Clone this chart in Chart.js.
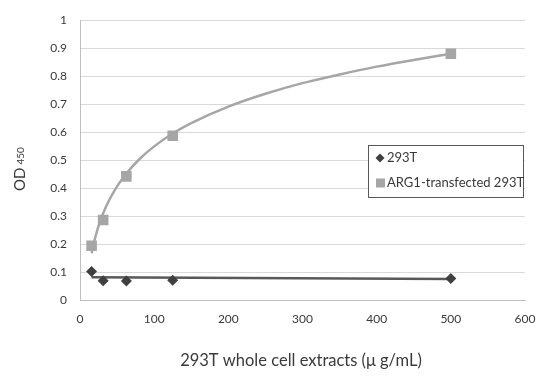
<!DOCTYPE html>
<html>
<head>
<meta charset="utf-8">
<script src="https://cdn.jsdelivr.net/npm/chart.js@4.4.1/dist/chart.umd.min.js"></script>
<style>
html,body{margin:0;padding:0;background:#fff;}
canvas{display:block;}
</style>
</head>
<body>
<canvas id="c" width="559" height="380"></canvas>
<script>
// ---- data ----
const concentrations = [15.625, 31.25, 62.5, 125, 500];
const od293T = [0.102, 0.069, 0.068, 0.071, 0.077];
const odARG1 = [0.194, 0.286, 0.442, 0.587, 0.880];
const seriesNames = ['293T', 'ARG1-transfected 293T'];
// trend lines as drawn in the reference
const trend293TX = [15.625, 500];
const trend293TY = [0.081, 0.075];
const trendARG1X = [15.625, 20, 25, 31.25, 40, 50, 62.5, 80, 100, 125, 150, 200, 250, 300, 350, 400, 450, 500];
const trendARG1Y = [0.167, 0.218, 0.264, 0.310, 0.360, 0.406, 0.452, 0.503, 0.549, 0.595, 0.632, 0.691, 0.737, 0.775, 0.806, 0.834, 0.858, 0.880];
const xTickLabels = ['0', '100', '200', '300', '400', '500', '600'];
const yTickLabels = ['0', '0.1', '0.2', '0.3', '0.4', '0.5', '0.6', '0.7', '0.8', '0.9', '1'];
const xTitle = '293T whole cell extracts (\u03bc g/mL)';
const yTitleMain = 'OD';
const yTitleSub = '450';

const FONT = 'Lato, "Open Sans", sans-serif';
const C_DARK = '#404040';
const C_LIGHT = '#a6a6a6';
const C_TEXT = '#3a3a3a';

const pts = (xs, ys) => xs.map((x, i) => ({x: x, y: ys[i]}));

const annot = {
  id: 'annot',
  afterDraw(chart) {
    const ctx = chart.ctx;
    ctx.save();
    // x title
    ctx.fillStyle = C_TEXT;
    ctx.font = '16.5px ' + FONT;
    ctx.textAlign = 'center';
    ctx.textBaseline = 'middle';
    ctx.fillText(xTitle, 301, 361);
    // y title with subscript
    ctx.save();
    ctx.translate(25, 191);
    ctx.rotate(-Math.PI / 2);
    ctx.textAlign = 'left';
    ctx.textBaseline = 'alphabetic';
    ctx.font = '15px ' + FONT;
    ctx.fillText(yTitleMain, 0, 0);
    const w = ctx.measureText(yTitleMain).width + 3;
    ctx.font = '10px ' + FONT;
    ctx.fillText(yTitleSub, w, -1);
    ctx.restore();
    // legend
    const lx = 368, ly = 145, lw = 155, lh = 52;
    ctx.fillStyle = '#fff';
    ctx.fillRect(lx, ly, lw, lh);
    ctx.strokeStyle = '#595959';
    ctx.lineWidth = 1;
    ctx.strokeRect(lx + 0.5, ly + 0.5, lw, lh);
    // item 1
    ctx.fillStyle = C_DARK;
    ctx.beginPath();
    ctx.moveTo(380, 153.5); ctx.lineTo(384.5, 158); ctx.lineTo(380, 162.5); ctx.lineTo(375.5, 158); ctx.closePath();
    ctx.fill();
    ctx.font = '13px ' + FONT;
    ctx.textAlign = 'left';
    ctx.textBaseline = 'middle';
    ctx.fillStyle = C_TEXT;
    ctx.fillText(seriesNames[0], 387, 158);
    // item 2
    ctx.fillStyle = C_LIGHT;
    ctx.fillRect(376, 178.5, 9, 9);
    ctx.fillStyle = C_TEXT;
    ctx.fillText(seriesNames[1], 387, 183);
    ctx.restore();
  }
};

new Chart(document.getElementById('c'), {
  type: 'scatter',
  data: {
    datasets: [
      {
        label: seriesNames[0],
        data: pts(concentrations, od293T),
        pointStyle: 'rectRot',
        pointRadius: 5.5,
        backgroundColor: C_DARK,
        borderColor: C_DARK,
        borderWidth: 0,
        showLine: false,
        order: 0
      },
      {
        label: seriesNames[1],
        data: pts(concentrations, odARG1),
        pointStyle: 'rect',
        pointRadius: 7.5,
        backgroundColor: C_LIGHT,
        borderColor: C_LIGHT,
        borderWidth: 0,
        showLine: false,
        order: 0
      },
      {
        label: 'trend 293T',
        data: pts(trend293TX, trend293TY),
        showLine: true,
        pointRadius: 0,
        borderColor: '#595959',
        borderWidth: 2.5,
        order: 1
      },
      {
        label: 'trend ARG1',
        data: pts(trendARG1X, trendARG1Y),
        showLine: true,
        pointRadius: 0,
        borderColor: C_LIGHT,
        borderWidth: 2.5,
        tension: 0.4,
        cubicInterpolationMode: 'monotone',
        order: 1
      }
    ]
  },
  options: {
    responsive: false,
    animation: false,
    events: [],
    layout: {padding: {top: 17, right: 34, left: 0, bottom: 0}},
    plugins: {legend: {display: false}, tooltip: {enabled: false}},
    scales: {
      x: {
        type: 'linear',
        min: 0, max: 600,
        grid: {display: false, drawTicks: false},
        border: {display: true, color: '#bfbfbf', width: 1},
        ticks: {
          stepSize: 100,
          padding: 12,
          color: C_TEXT,
          font: {family: FONT, size: 12},
          callback: (v, i) => xTickLabels[i]
        },
        afterFit(s) { s.height = 80; }
      },
      y: {
        min: 0, max: 1,
        grid: {color: '#d9d9d9', drawTicks: false, lineWidth: 1},
        border: {display: true, color: '#bfbfbf', width: 1},
        ticks: {
          stepSize: 0.1,
          padding: 13,
          color: C_TEXT,
          font: {family: FONT, size: 12},
          callback: (v, i) => yTickLabels[i]
        },
        afterFit(s) { s.width = 80; }
      }
    }
  },
  plugins: [annot]
});
</script>
</body>
</html>
